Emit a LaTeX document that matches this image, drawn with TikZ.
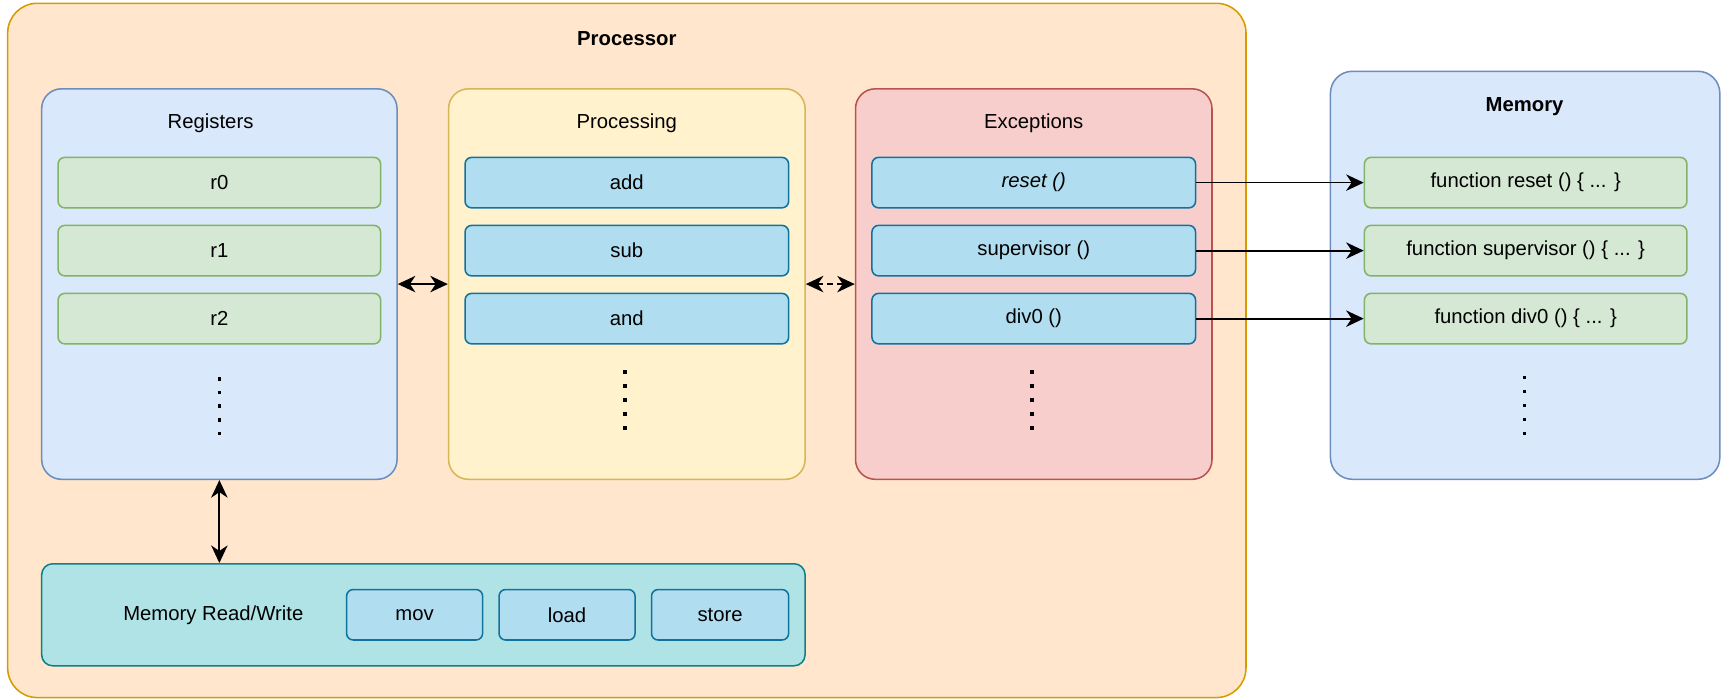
\documentclass[tikz,border=0pt]{standalone}
\usepackage{fontspec}
\setmainfont{Liberation Sans}
\usetikzlibrary{arrows.meta}
\definecolor{procF}{HTML}{FFE6CC}\definecolor{procD}{HTML}{D79B00}
\definecolor{blueF}{HTML}{DAE8FC}\definecolor{blueD}{HTML}{6C8EBF}
\definecolor{yelF}{HTML}{FFF2CC}\definecolor{yelD}{HTML}{D6B656}
\definecolor{redF}{HTML}{F8CECC}\definecolor{redD}{HTML}{B85450}
\definecolor{grnF}{HTML}{D5E8D4}\definecolor{grnD}{HTML}{82B366}
\definecolor{cyF}{HTML}{B1DDF0}\definecolor{cyD}{HTML}{10739E}
\definecolor{tealF}{HTML}{B0E3E6}\definecolor{tealD}{HTML}{0E8088}
\tikzset{
  base/.style={rectangle, line width=1.4pt, inner sep=0pt, font=\fontsize{18.5}{22}\selectfont},
  proc/.style={base, fill=procF, draw=procD, rounded corners=27pt},
  group/.style={base, rounded corners=18pt},
  item/.style={base, rounded corners=6pt, minimum width=295pt, minimum height=46pt},
  gitem/.style={item, fill=grnF, draw=grnD},
  citem/.style={item, fill=cyF, draw=cyD},
  txt/.style={font=\fontsize{18.5}{22}\selectfont, inner sep=0pt},
  btxt/.style={txt, font=\fontsize{18.5}{22}\selectfont\bfseries},
  conn/.style={line width=1.6pt, -{Stealth[length=16pt,width=15pt,inset=5pt]}},
  dconn/.style={line width=1.6pt, {Stealth[length=16pt,width=15pt,inset=5pt]}-{Stealth[length=16pt,width=15pt,inset=5pt]}}
}
\begin{document}
\begin{tikzpicture}[x=1pt,y=-1pt]
\useasboundingbox (0,0) rectangle (1570,636.4);
% Processor
\node[proc, minimum width=1129pt, minimum height=633pt] (processor) at (571.5,319.5) {};
\node[btxt] (proctitle) at (571.5,35) {Processor};
% Registers
\node[group, fill=blueF, draw=blueD, minimum width=324pt, minimum height=356pt] (registers) at (200,259) {};
\node[txt] (regtitle) at (192,112) {Registers};
\node[gitem, minimum width=294pt] (r0) at (200,166.5) {r0};
\node[gitem, minimum width=294pt] (r1) at (200,228.5) {r1};
\node[gitem, minimum width=294pt] (r2) at (200,290.5) {r2};
% Processing
\node[group, fill=yelF, draw=yelD, minimum width=325pt, minimum height=356pt] (processing) at (571.5,259) {};
\node[txt] (proctitle2) at (571.5,112) {Processing};
\node[citem] (add) at (571.5,166.5) {add};
\node[citem] (sub) at (571.5,228.5) {sub};
\node[citem] (and) at (571.5,290.5) {and};
% Exceptions
\node[group, fill=redF, draw=redD, minimum width=325pt, minimum height=356pt] (exceptions) at (942.5,259) {};
\node[txt] (exctitle) at (942.5,112) {Exceptions};
\node[citem] (reset) at (942.5,166.5) {\itshape reset ()};
\node[citem] (supervisor) at (942.5,228.5) {supervisor ()};
\node[citem] (div0) at (942.5,290.5) {div0 ()};
% Memory
\node[base, fill=blueF, draw=blueD, rounded corners=20pt, minimum width=355pt, minimum height=372pt] (memory) at (1390.5,251) {};
\node[btxt] (memtitle) at (1390,97) {Memory};
\node[gitem, minimum width=294pt] (freset) at (1391,166.5) {function reset () \{ ... \}};
\node[gitem, minimum width=294pt] (fsup) at (1391,228.5) {function supervisor () \{ ... \}};
\node[gitem, minimum width=294pt] (fdiv) at (1391,290.5) {function div0 () \{ ... \}};
% Memory Read/Write
\node[group, fill=tealF, draw=tealD, rounded corners=10pt, minimum width=696pt, minimum height=93pt] (memrw) at (386,560.5) {};
\node[txt] (memrwtext) at (194.5,561) {Memory Read/Write};
\node[citem, minimum width=124pt] (mov) at (378,560.5) {mov};
\node[citem, minimum width=124pt] (load) at (517,560.5) {load};
\node[citem, minimum width=125pt] (store) at (656.5,560.5) {store};
% dots
\foreach \i in {0,...,4} {
  \fill (200-1.6,345.5+12.4*\i-1.6) rectangle ++(3.2,3.2);
  \fill (570-1.6,339+12.8*\i-1.6) rectangle ++(3.2,3.2);
  \fill (941-1.6,339+12.8*\i-1.6) rectangle ++(3.2,3.2);
  \fill (1390-1.6,344+12.8*\i-1.6) rectangle ++(3.2,3.2);
}
% connectors
\draw[dconn] (registers.east |- 0,259) -- (processing.west |- 0,259);
\draw[dconn, dash pattern=on 5pt off 4pt] (processing.east |- 0,259) -- (exceptions.west |- 0,259);
\draw[dconn] (registers.south) -- (memrw.north -| registers.south);
\draw[conn] (reset.east) -- (freset.west);
\draw[conn] (supervisor.east) -- (fsup.west);
\draw[conn] (div0.east) -- (fdiv.west);
\end{tikzpicture}
\end{document}
